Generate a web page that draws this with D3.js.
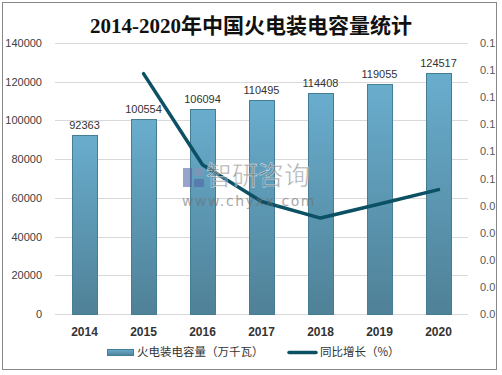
<!DOCTYPE html>
<html>
<head>
<meta charset="utf-8">
<script src="https://cdn.jsdelivr.net/npm/d3@7"></script>
<style>
    body { margin: 0; background: #fff; }
    svg text { font-family: "Liberation Sans", Arial, "Noto Sans CJK SC", sans-serif; }
</style>
</head>
<body>
<div id="chart"></div>
<script>
const years = ["2014", "2015", "2016", "2017", "2018", "2019", "2020"];
const capacity = [92363, 100554, 106094, 110495, 114408, 119055, 124517];
const growth = [null, 0.0887, 0.0551, 0.0415, 0.0354, 0.0406, 0.0459];
const leftTicks = [0, 20000, 40000, 60000, 80000, 100000, 120000, 140000];
const rightTicks = [0, 0.01, 0.02, 0.03, 0.04, 0.05, 0.06, 0.07, 0.08, 0.09, 0.1];
const rightTickLabels = ["0.0", "0.0", "0.0", "0.0", "0.0", "0.1", "0.1", "0.1", "0.1", "0.1", "0.1"];

const width = 502;
const height = 375;
const margin = { top: 43, right: 34, bottom: 61, left: 55 };

const svg = d3.select("#chart")
    .append("svg")
    .attr("width", width)
    .attr("height", height);

// frame
svg.append("rect")
    .attr("x", 2.5).attr("y", 2.5)
    .attr("width", 494).attr("height", 367)
    .attr("fill", "#fff")
    .attr("stroke", "#888")
    .attr("stroke-width", 1);

const defs = svg.append("defs");
const grad = defs.append("linearGradient")
    .attr("id", "barGrad")
    .attr("x1", 0).attr("y1", 0).attr("x2", 0).attr("y2", 1);
grad.append("stop").attr("offset", "0%").attr("stop-color", "#69adcd");
grad.append("stop").attr("offset", "100%").attr("stop-color", "#4f8197");

const x = d3.scaleBand()
    .domain(years)
    .range([margin.left, width - margin.right])
    .paddingInner(0.57)
    .paddingOuter(0.285);

const y = d3.scaleLinear()
    .domain([0, 140000])
    .range([height - margin.bottom, margin.top]);

const y2 = d3.scaleLinear()
    .domain([0, 0.1])
    .range([height - margin.bottom, margin.top]);

// gridlines
svg.append("g")
    .selectAll("line")
    .data(leftTicks)
    .join("line")
    .attr("x1", margin.left)
    .attr("x2", width - margin.right)
    .attr("y1", d => Math.round(y(d)) + 0.5)
    .attr("y2", d => Math.round(y(d)) + 0.5)
    .attr("stroke", "#d9d9d9");

// left axis
const leftAxis = svg.append("g")
    .attr("transform", `translate(${margin.left},0)`)
    .call(d3.axisLeft(y).tickValues(leftTicks).tickSize(0).tickPadding(13).tickFormat(d3.format("d")));
leftAxis.select(".domain").remove();
leftAxis.selectAll("text")
    .attr("font-size", 11)
    .attr("fill", "#404040")
    .style("font-family", "'Liberation Sans', Arial, sans-serif");

// right axis
const rightAxis = svg.append("g")
    .attr("transform", `translate(${width - margin.right},0)`)
    .call(d3.axisRight(y2).tickValues(rightTicks).tickSize(0).tickPadding(12)
        .tickFormat((d, i) => rightTickLabels[i]));
rightAxis.select(".domain").remove();
rightAxis.selectAll("text")
    .attr("font-size", 11)
    .attr("fill", "#595959")
    .style("font-family", "'Liberation Sans', Arial, sans-serif");

// x axis
const xAxis = svg.append("g")
    .attr("transform", `translate(0,${height - margin.bottom})`)
    .call(d3.axisBottom(x).tickSize(0).tickPadding(13));
xAxis.select(".domain").remove();
xAxis.selectAll("text")
    .attr("font-size", 12)
    .attr("font-weight", "bold")
    .attr("fill", "#333")
    .style("font-family", "'Liberation Sans', Arial, sans-serif");

// bars
svg.append("g")
    .selectAll("rect")
    .data(capacity)
    .join("rect")
    .attr("x", (d, i) => Math.round(x(years[i])) + 0.5)
    .attr("y", d => Math.round(y(d)) + 0.5)
    .attr("width", Math.round(x.bandwidth()))
    .attr("height", d => Math.round(y(0)) - Math.round(y(d)))
    .attr("fill", "url(#barGrad)")
    .attr("stroke", "#457d96")
    .attr("stroke-width", 1);

// bar labels
svg.append("g")
    .selectAll("text")
    .data(capacity)
    .join("text")
    .attr("x", (d, i) => x(years[i]) + x.bandwidth() / 2)
    .attr("y", d => y(d) - 6)
    .attr("text-anchor", "middle")
    .attr("font-size", 11)
    .attr("fill", "#333")
    .text(d => d);

// growth line
const line = d3.line()
    .defined(d => d.v !== null)
    .x(d => x(d.year) + x.bandwidth() / 2)
    .y(d => y2(d.v));

svg.append("path")
    .datum(years.map((yr, i) => ({ year: yr, v: growth[i] })))
    .attr("d", line)
    .attr("fill", "none")
    .attr("stroke", "#0c5064")
    .attr("stroke-width", 3.5)
    .attr("stroke-linejoin", "round")
    .attr("stroke-linecap", "round");

// watermark (sits over the marks, half transparent)
const wm = svg.append("g").attr("opacity", 0.6);
wm.append("rect").attr("x", 183).attr("y", 168).attr("width", 9).attr("height", 19).attr("fill", "#5566a8");
wm.append("rect").attr("x", 194).attr("y", 168).attr("width", 10).attr("height", 8).attr("fill", "#8a94b8");
wm.append("rect").attr("x", 194).attr("y", 179).attr("width", 10).attr("height", 8).attr("fill", "#5566a8");
wm.append("text")
    .attr("x", 206).attr("y", 185)
    .attr("font-size", 26)
    .attr("fill", "#707070")
    .attr("stroke", "#fff")
    .attr("stroke-width", 0.6)
    .style("font-family", "'Noto Sans CJK SC', sans-serif")
    .text("智研咨询");
wm.append("text")
    .attr("x", 182).attr("y", 206)
    .attr("font-size", 14)
    .attr("letter-spacing", 1.6)
    .attr("fill", "#707070")
    .style("font-family", "'DejaVu Sans', sans-serif")
    .text("www.chyxx.com");

// title
svg.append("text")
    .attr("x", 251)
    .attr("y", 33)
    .attr("text-anchor", "middle")
    .attr("font-size", 21)
    .attr("font-weight", "bold")
    .attr("fill", "#111")
    .style("font-family", "'Liberation Serif', 'Noto Sans CJK SC', serif")
    .text("2014-2020年中国火电装电容量统计");

// legend
const legend = svg.append("g");
legend.append("rect")
    .attr("x", 107.5).attr("y", 349.5)
    .attr("width", 26).attr("height", 6)
    .attr("fill", "url(#barGrad)")
    .attr("stroke", "#457d96");
legend.append("text")
    .attr("x", 137).attr("y", 356)
    .attr("font-size", 11.5)
    .attr("fill", "#333")
    .style("font-family", "'Noto Sans CJK SC', sans-serif")
    .text("火电装电容量（万千瓦）");
legend.append("line")
    .attr("x1", 289).attr("x2", 316)
    .attr("y1", 352.5).attr("y2", 352.5)
    .attr("stroke", "#0c5064")
    .attr("stroke-width", 3.5)
    .attr("stroke-linecap", "round");
legend.append("text")
    .attr("x", 320).attr("y", 356)
    .attr("font-size", 11.5)
    .attr("fill", "#333")
    .style("font-family", "'Noto Sans CJK SC', sans-serif")
    .text("同比增长（%）");
</script>
</body>
</html>
